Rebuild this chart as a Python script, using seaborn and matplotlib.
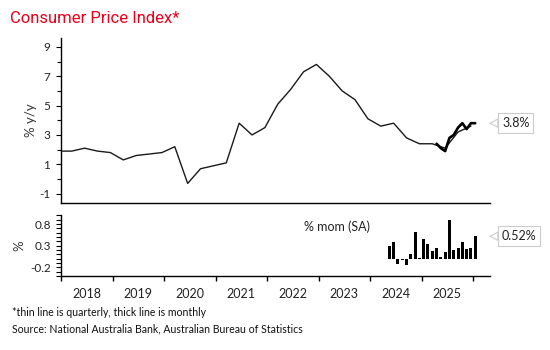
import matplotlib
matplotlib.use("Agg")
import matplotlib.pyplot as plt
import numpy as np
import pandas as pd
import seaborn as sns
from matplotlib.ticker import FixedFormatter, FixedLocator, MultipleLocator, NullFormatter

# quarterly CPI, % y/y, Dec qtr 2017 .. Dec qtr 2025
quarters = pd.period_range("2017Q4", "2025Q4", freq="Q")
q_yoy = [1.9,
         1.9, 2.1, 1.9, 1.8,
         1.3, 1.6, 1.7, 1.8,
         2.2, -0.3, 0.7, 0.9,
         1.1, 3.8, 3.0, 3.5,
         5.1, 6.1, 7.3, 7.8,
         7.0, 6.0, 5.4, 4.1,
         3.6, 3.8, 2.8, 2.4,
         2.4, 2.1, 3.2, 3.6]

# monthly CPI, % y/y, Apr 2025 .. Jan 2026
yoy_months = pd.period_range("2025-04", "2026-01", freq="M")
m_yoy = [2.4, 2.1, 1.9, 2.8, 3.0, 3.5, 3.8, 3.4, 3.8, 3.8]

# monthly CPI, % m/m seasonally adjusted, May 2024 .. Jan 2026
mom_months = pd.period_range("2024-05", "2026-01", freq="M")
m_mom = [0.29, 0.38, -0.12, -0.04, -0.14, 0.12, 0.62, 0.02, 0.46, 0.34,
         0.19, 0.25, 0.05, 0.16, 0.90, 0.20, 0.24, 0.38, 0.23, 0.24, 0.52]

years = list(range(2018, 2026))
yoy_ticks = [-1, 1, 3, 5, 7, 9]
mom_ticks = [-0.2, 0.3, 0.8]
red = "#e8001c"


def dec_year(periods):
    # middle of the (last) month of each period, as a decimal year
    months = periods.asfreq("M", how="end")
    return np.array([p.year + (p.month - 0.5) / 12 for p in months])


sns.set_style("white")
plt.rcParams["font.family"] = ["Lato", "DejaVu Sans"]
plt.rcParams["axes.unicode_minus"] = False

fig = plt.figure(figsize=(5.5, 3.5), dpi=100)
ax1 = fig.add_axes([0.111, 0.4214, 0.78, 0.47])
ax2 = fig.add_axes([0.111, 0.2114, 0.78, 0.1729])

sns.lineplot(x=dec_year(quarters), y=q_yoy, ax=ax1, color="#1a1a1a", linewidth=1.0)
sns.lineplot(x=dec_year(yoy_months), y=m_yoy, ax=ax1, color="black", linewidth=1.9)

sns.barplot(x=dec_year(mom_months), y=m_mom, ax=ax2, native_scale=True, orient="x",
            width=0.7, color="black", saturation=1, errorbar=None, linewidth=0)

xlim = (2018.0, 2026.33)
for ax in (ax1, ax2):
    ax.set_xlim(*xlim)
    sns.despine(ax=ax)
    for s in ("left", "bottom"):
        ax.spines[s].set_color("black")
        ax.spines[s].set_linewidth(1.0)
    ax.tick_params(axis="y", which="both", left=True, direction="out", colors="black",
                   labelcolor="#222222", width=0.8, pad=4)

# top panel
ax1.set_ylim(-1.6, 9.6)
ax1.yaxis.set_major_locator(FixedLocator(yoy_ticks))
ax1.yaxis.set_major_formatter(FixedFormatter([f"{t:g}" for t in yoy_ticks]))
ax1.yaxis.set_minor_locator(FixedLocator([0, 2, 4, 6, 8]))
ax1.tick_params(axis="y", which="major", length=3.8, labelsize=8.5)
ax1.tick_params(axis="y", which="minor", length=2.6)
ax1.set_xticks([])
ax1.set_ylabel("% y/y", fontsize=9.5, color="#333333")
ax1.yaxis.set_label_coords(-0.056, 0.5)

# bottom panel
ax2.set_ylim(-0.4, 1.0)
ax2.yaxis.set_major_locator(FixedLocator(mom_ticks))
ax2.yaxis.set_minor_locator(MultipleLocator(0.1))
ax2.yaxis.set_major_formatter(FixedFormatter([f"{t:g}" for t in mom_ticks]))
ax2.tick_params(axis="y", which="both", length=3.3, labelsize=8.5)
ax2.set_ylabel("%", fontsize=9.5, color="#333333")
ax2.yaxis.set_label_coords(-0.082, 0.5)

ax2.xaxis.set_major_locator(FixedLocator(years + [2026]))
ax2.xaxis.set_major_formatter(NullFormatter())
ax2.xaxis.set_minor_locator(FixedLocator([y + 0.5 for y in years]))
ax2.xaxis.set_minor_formatter(FixedFormatter([str(y) for y in years]))
ax2.tick_params(axis="x", which="major", bottom=True, direction="out", length=3.8,
                width=1.0, colors="black")
ax2.tick_params(axis="x", which="minor", bottom=True, length=0, pad=8.5,
                labelsize=9, labelcolor="#222222")
ax2.set_xlabel("")

ax2.text(0.643, 0.81, "% mom (SA)", transform=ax2.transAxes, ha="center", va="center",
         fontsize=9, color="#222222")

# value callouts at the right edge
for ax, val, fmt in ((ax1, m_yoy[-1], "{:.1f}%"), (ax2, m_mom[-1], "{:.2f}%")):
    ax.annotate(fmt.format(val), xy=(1.0, val), xycoords=("axes fraction", "data"),
                xytext=(8.6, 0), textcoords="offset points", ha="left", va="center",
                fontsize=9, color="#222222", annotation_clip=False,
                bbox=dict(boxstyle="square,pad=0.3", fc="white", ec="#cccccc", lw=0.8),
                arrowprops=dict(arrowstyle="wedge,tail_width=0.65", fc="white",
                                ec="#cccccc", lw=0.8, shrinkA=0, shrinkB=0))

fig.text(10 / 550, 1 - 23.3 / 350, "Consumer Price Index*", color=red, fontsize=12,
         family=["Roboto", "DejaVu Sans"], va="baseline", ha="left")
fig.text(12 / 550, 1 - 313 / 350, "*thin line is quarterly, thick line is monthly",
         fontsize=7.6, color="#111111", va="center", ha="left")
fig.text(12 / 550, 1 - 329 / 350,
         "Source: National Australia Bank, Australian Bureau of Statistics",
         fontsize=7.6, color="#111111", va="center", ha="left")

fig.savefig("out.png", dpi=100)
plt.close(fig)
